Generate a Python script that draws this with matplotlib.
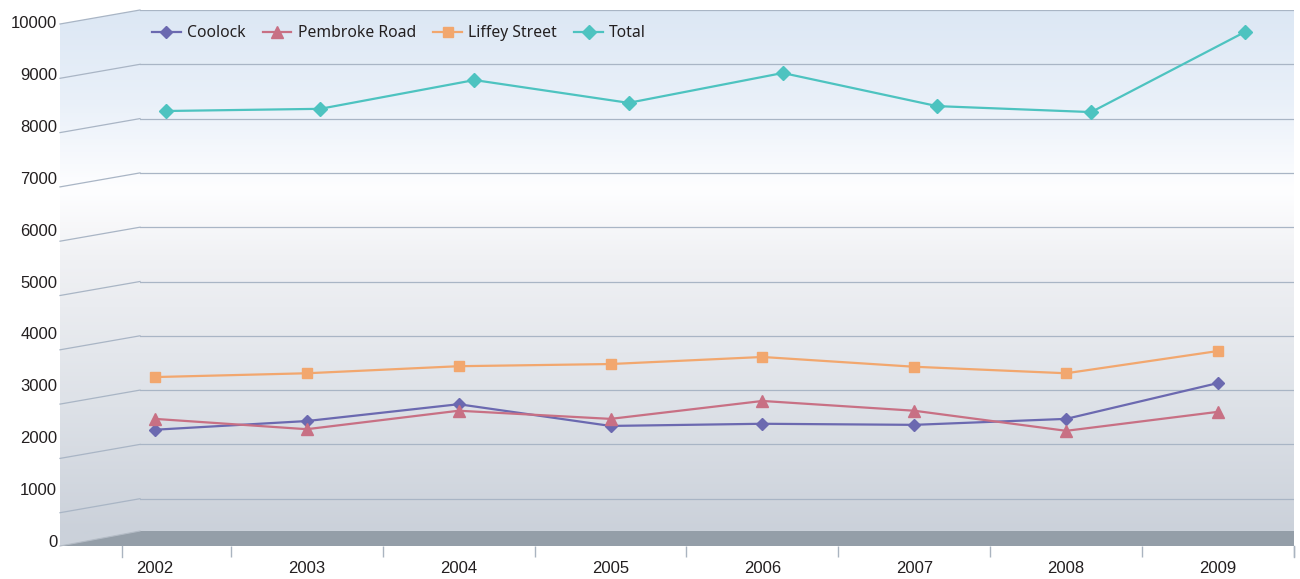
import numpy as np
import matplotlib
matplotlib.use("Agg")
import matplotlib.pyplot as plt
from matplotlib.patches import Polygon

years = ["2002", "2003", "2004", "2005", "2006", "2007", "2008", "2009"]
coolock = [2270, 2430, 2740, 2340, 2380, 2360, 2470, 3130]
pembroke = [2470, 2280, 2620, 2470, 2800, 2620, 2250, 2600]
liffey = [3240, 3310, 3440, 3480, 3610, 3430, 3310, 3720]
total = [8140, 8180, 8710, 8290, 8840, 8230, 8120, 9600]
y_ticks = list(range(0, 10001, 1000))

W, H = 1300, 579
TEXT = "#231f20"
GRID = "#a9b5c5"

# back wall geometry (pixels, y from top)
WALL_L, WALL_R = 140, 1294
FRONT_L = 60
Y_TOP = 10            # where 10000 sits on the back wall
Y_ZERO = 553          # where 0 would sit on the back wall
FLOOR_TOP, FLOOR_FRONT = 531, 546
DEPTH_DY = 14


def px_to_val(ypx):
    return (Y_ZERO - ypx) / (Y_ZERO - Y_TOP) * 10000


fig = plt.figure(figsize=(W / 100, H / 100), dpi=100)

# ---- background: walls, floor, side gridlines
bg = fig.add_axes([0, 0, 1, 1], zorder=0)
bg.set_xlim(0, W)
bg.set_ylim(H, 0)
bg.axis("off")

stops_y = [10, 100, 190, 260, 400, 531]
stops_c = np.array([(220, 231, 244), (233, 240, 249), (254, 254, 255),
                    (240, 241, 244), (222, 226, 232), (203, 209, 218)]) / 255
rows = np.arange(Y_TOP, FLOOR_FRONT + 1)
grad = np.stack([np.interp(rows, stops_y, stops_c[:, k]) for k in range(3)], axis=-1)
img = bg.imshow(grad[:, None, :], extent=[FRONT_L, WALL_R, FLOOR_FRONT, Y_TOP],
                aspect="auto", interpolation="bilinear", zorder=0)
wall = Polygon([(FRONT_L, Y_TOP + DEPTH_DY), (WALL_L, Y_TOP), (WALL_R, Y_TOP),
                (WALL_R, FLOOR_FRONT), (FRONT_L, FLOOR_FRONT)],
               closed=True, facecolor="none", edgecolor="none")
bg.add_patch(wall)
img.set_clip_path(wall)

for v in y_ticks[1:]:
    yb = Y_ZERO - v / 10000 * (Y_ZERO - Y_TOP)
    bg.plot([FRONT_L, WALL_L], [yb + DEPTH_DY, yb], color=GRID, lw=0.9, zorder=1)

floor = Polygon([(FRONT_L, FLOOR_FRONT), (WALL_L, FLOOR_TOP), (WALL_R, FLOOR_TOP),
                 (WALL_R, FLOOR_FRONT)], closed=True, facecolor="#949ea8",
                edgecolor="none", zorder=2)
bg.add_patch(floor)
bg.plot([FRONT_L, WALL_L], [FLOOR_FRONT, FLOOR_TOP], color="#b4bcc6", lw=0.8, zorder=3)
for xt in [122, WALL_R]:
    bg.plot([xt, xt], [FLOOR_FRONT, FLOOR_FRONT + 11], color="#aab4c0", lw=1, zorder=3)

# ---- main plot area (back wall)
rect = [WALL_L / W, (H - FLOOR_FRONT) / H, (WALL_R - WALL_L) / W, (FLOOR_FRONT - Y_TOP) / H]
ylim = (px_to_val(FLOOR_FRONT), 10000)

ax = fig.add_axes(rect, zorder=2)
ax.set_facecolor("none")
ax.set_xlim((WALL_L - 155) / 153.2, (WALL_R - 155) / 153.2)
ax.set_ylim(*ylim)
for s in ax.spines.values():
    s.set_visible(False)
ax.set_yticks(y_ticks[1:])
ax.tick_params(axis="y", length=0, labelleft=False)
ax.grid(axis="y", color=GRID, lw=0.9)
ax.set_axisbelow(True)
x = np.arange(len(years))
ax.set_xticks(x)
ax.set_xticklabels(years, fontsize=12, color=TEXT, family="Liberation Sans")
ax.set_xticks(x + 0.5, minor=True)
ax.tick_params(axis="x", which="major", length=0, pad=11)
ax.tick_params(axis="x", which="minor", length=8, width=1, color="#aab4c0", direction="out")

l1, = ax.plot(x, coolock, color="#6b69b0", lw=1.6, marker="D", ms=6.5, label="Coolock")
l2, = ax.plot(x, pembroke, color="#c87084", lw=1.6, marker="^", ms=8, label="Pembroke Road")
l3, = ax.plot(x, liffey, color="#f2a76e", lw=1.6, marker="s", ms=7, label="Liffey Street")

# total series sits at a different depth, so slightly shifted horizontally
ax2 = fig.add_axes(rect, zorder=3)
ax2.set_facecolor("none")
ax2.set_xlim((WALL_L - 166) / 154.2, (WALL_R - 166) / 154.2)
ax2.set_ylim(*ylim)
ax2.axis("off")
l4, = ax2.plot(x, total, color="#4dc3c0", lw=1.6, marker="D", ms=7, label="Total")

leg = fig.legend(handles=[l1, l2, l3, l4], loc="center left",
                 bbox_to_anchor=(144 / W, 1 - 33 / H), ncol=4, frameon=False,
                 borderpad=0, handlelength=1.83, handletextpad=0.4,
                 columnspacing=1.1, prop={"family": "Noto Sans", "size": 11.3})
for t in leg.get_texts():
    t.set_color(TEXT)

# ---- y labels at the front edge
lab = fig.add_axes([FRONT_L / W, (H - 541) / H, 0.001, (541 - 22) / H], zorder=1)
lab.set_facecolor("none")
lab.set_ylim(0, 10000)
lab.set_yticks(y_ticks)
lab.set_yticklabels([str(v) for v in y_ticks], fontsize=12, color=TEXT, family="Liberation Sans")
lab.tick_params(axis="y", length=0, pad=2)
lab.set_xticks([])
for s in lab.spines.values():
    s.set_visible(False)

fig.savefig("out.png", dpi=100)
